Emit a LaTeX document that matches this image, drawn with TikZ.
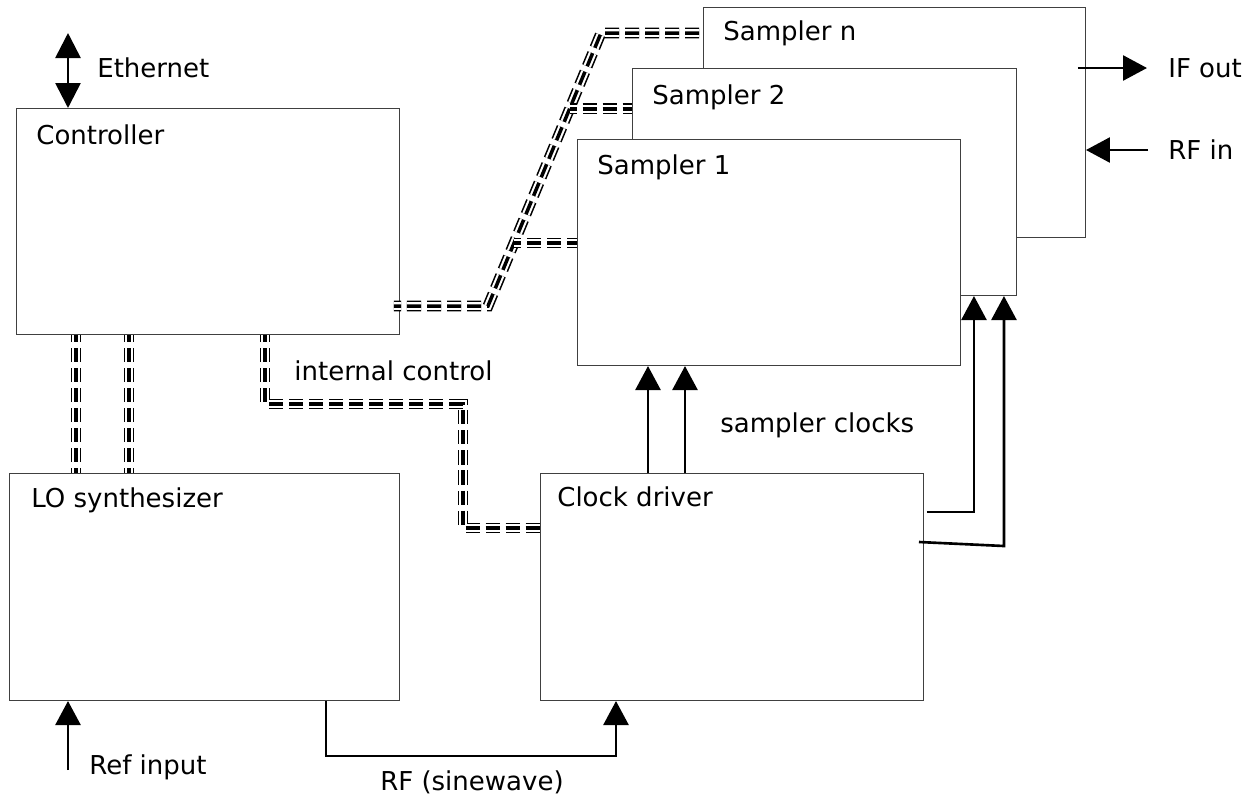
\documentclass[tikz,border=0pt]{standalone}
\usepackage{fontspec}
\setmainfont{DejaVu Sans}
\usetikzlibrary{arrows.meta,calc}
\tikzset{%
    blk/.style={draw=black!75,line width=0.6pt,fill=white,inner sep=0pt,anchor=north west}
}

\begin{document}
\begin{tikzpicture}[
        x=0.02cm,y=-0.02cm,
        txt/.style={inner sep=0pt,anchor=west,font=\fontsize{14.8}{17}\selectfont},
        sig/.style={line width=1.5pt,-{Triangle[length=0.48cm,width=0.5cm]}},
        coax/.style={preaction={draw,line width=0.9pt,double=white,double distance=4.4pt,
            dash pattern=on 8pt off 3.4pt},
            draw,line width=2pt,dash pattern=on 8pt off 3.4pt,dash phase=4pt}
        ]
        \useasboundingbox (0,0) rectangle (1259,799);

        % boxes
        \node[blk,minimum width=7.66cm,minimum height=4.52cm] (ctrl) at (16,108){};
        \node[blk,minimum width=7.8cm,minimum height=4.54cm] (lo) at (9,473){};
        \node[blk,minimum width=7.66cm,minimum height=4.54cm] (clk) at (540,473){};
        \node[blk,minimum width=7.64cm,minimum height=4.6cm] (smpn) at (703,7){};
        \node[blk,minimum width=7.68cm,minimum height=4.54cm] (smp2) at (632,68){};
        \node[blk,minimum width=7.66cm,minimum height=4.52cm] (smp1) at (577,139){};

        \node[txt] (ctrltxt) at (36,135){Controller};
        \node[txt] (lotxt) at (31,500){LO synthesizer};
        \node[txt] (clktxt) at (557,497){Clock driver};
        \node[txt] (smp1txt) at (597,167){Sampler 1};
        \node[txt] (smp2txt) at (652,97){Sampler 2};
        \node[txt] (smpntxt) at (723,33){Sampler n};

        % labels
        \node[txt] (ethtxt) at (97,68){Ethernet};
        \node[txt] (inttxt) at (294,371){internal control};
        \node[txt] (clkstxt) at (720,425){sampler clocks};
        \node[txt] (ifout) at (1168,68){IF out};
        \node[txt] (rfin) at (1168,150){RF in};
        \node[txt] (reftxt) at (89,767){Ref input};
        \node[txt,anchor=center] (rftxt) at (472,782){RF (sinewave)};

        % control cables
        \draw[coax] ($(ctrl.south east)+(-6,-29)$) -- ++(94,0) coordinate (dlo)
            -- ++(113,-273) coordinate (dhi) -- (dhi -| smpn.west);
        \draw[coax] ($(dlo)!0.231!(dhi)$) coordinate (b1) -- (b1 -| smp1.west);
        \draw[coax] ($(dlo)!0.722!(dhi)$) coordinate (b2) -- (b2 -| smp2.west);
        \draw[coax] ($(ctrl.south west)+(60,0)$) -- ($(lo.north west)+(67,0)$);
        \draw[coax] ($(ctrl.south west)+(113,0)$) -- ($(lo.north west)+(120,0)$);
        \draw[coax] ($(ctrl.south west)+(249,0)$) -- ++(0,69) -- ++(198,0)
            -- ++(0,124) coordinate (cdin) -- (cdin -| clk.west);

        % signals
        \coordinate (eth) at (68,33);
        \draw[line width=1.5pt,{Triangle[length=0.5cm,width=0.5cm]}-{Triangle[length=0.5cm,width=0.5cm]}]
            (eth) -- (eth |- ctrl.north);
        \draw[sig] ($(clk.north west)+(108,0)$) -- ($(smp1.south west)+(71,0)$);
        \draw[sig] ($(clk.north west)+(145,0)$) -- ($(smp1.south west)+(108,0)$);
        \draw[sig] ($(clk.north east)+(3,39)$) -| ($(smp2.south east)+(-43,0)$);
        \draw[sig] ($(clk.north east)+(-5,69)$) -- ($(smp2.south east)+(-13,250)$)
            -- ($(smp2.south east)+(-13,0)$);
        \coordinate (ifsrc) at ($(smpn.north east)+(-8,61)$);
        \draw[sig,shorten >=0.42cm] (ifsrc) -- (ifsrc -| ifout.west);
        \draw[sig,shorten <=0.4cm] (rfin.west) -- (rfin.west -| smpn.east);
        \coordinate (refsrc) at (68,770);
        \draw[sig] (refsrc) -- (refsrc |- lo.south);
        \draw[sig] ($(lo.south west)+(317,0)$) -- ++(0,55) -| ($(clk.south west)+(76,0)$);
    \end{tikzpicture}
\end{document}
